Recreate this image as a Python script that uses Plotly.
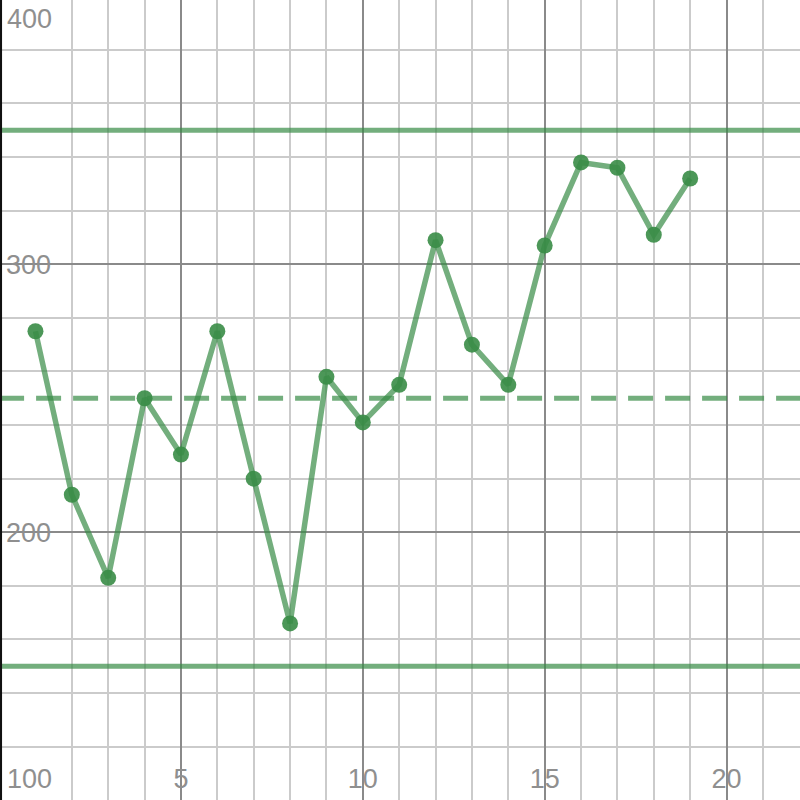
import plotly.graph_objects as go

# Data
x_vals = list(range(1, 20))
y_vals = [275, 214, 183, 250, 229, 275, 220, 166, 258, 241,
          255, 309, 270, 255, 307, 338, 336, 311, 332]
ucl = 350
center = 250
lcl = 150
x_span = [0, 23]
x_tick_vals = [5, 10, 15, 20]
x_tick_text = ["5", "10", "15", "20"]
y_tick_vals = [200, 300]
y_tick_text = ["200", "300"]
y_edge_labels = ["400", "100"]

GREEN = "rgba(56,140,70,0.7)"
MARK = "rgba(56,140,70,0.9)"
LABEL = "#8f8f8f"
FONT = dict(family="Liberation Sans, Arial, sans-serif", size=27, color=LABEL)

fig = go.Figure()
for val, dash in [(ucl, "solid"), (center, "25px,12px"), (lcl, "solid")]:
    fig.add_trace(go.Scatter(
        x=x_span, y=[val, val], mode="lines",
        line=dict(color=GREEN, width=5, dash=dash),
        hoverinfo="skip", showlegend=False,
    ))
fig.add_trace(go.Scatter(
    x=x_vals, y=y_vals, mode="lines+markers",
    line=dict(color=GREEN, width=5.5),
    marker=dict(size=16, color=MARK, line=dict(width=0)),
    hoverinfo="skip", showlegend=False,
))

fig.update_layout(
    width=800, height=800,
    margin=dict(l=0, r=0, t=0, b=0, pad=0, autoexpand=False),
    plot_bgcolor="white", paper_bgcolor="white",
    showlegend=False,
)

fig.update_xaxes(
    range=[0.025, 22.02], automargin=False,
    tickvals=x_tick_vals, ticktext=x_tick_text,
    ticklabelposition="inside", ticks="", ticklabelstandoff=4,
    tickfont=FONT,
    showgrid=True, gridcolor="#8a8a8a", gridwidth=1.5,
    minor=dict(dtick=1, tick0=0, showgrid=True, gridcolor="#cbcbcb", gridwidth=1.5),
    zeroline=False, showline=False,
)
fig.update_yaxes(
    range=[100.1, 398.6], automargin=False,
    tickvals=y_tick_vals, ticktext=y_tick_text,
    ticklabelposition="inside", ticks="", ticklabelstandoff=3,
    tickfont=FONT,
    showgrid=True, gridcolor="#8a8a8a", gridwidth=1.5,
    minor=dict(dtick=20, tick0=0, showgrid=True, gridcolor="#cbcbcb", gridwidth=1.5),
    zeroline=False, showline=False,
)

fig.add_shape(type="line", xref="paper", yref="paper", x0=0.001, x1=0.001, y0=0, y1=1,
              line=dict(color="#111111", width=2.5), layer="above")

fig.add_annotation(text=y_edge_labels[0], xref="paper", yref="paper", x=0, y=1,
                   xanchor="left", yanchor="top", xshift=5, yshift=-2,
                   showarrow=False, font=FONT)
fig.add_annotation(text=y_edge_labels[1], xref="paper", yref="paper", x=0, y=0,
                   xanchor="left", yanchor="bottom", xshift=5, yshift=4,
                   showarrow=False, font=FONT)

fig.write_html("out.html", config={"displayModeBar": False},
               post_script="document.body.style.margin='0';document.body.style.overflow='hidden';")
